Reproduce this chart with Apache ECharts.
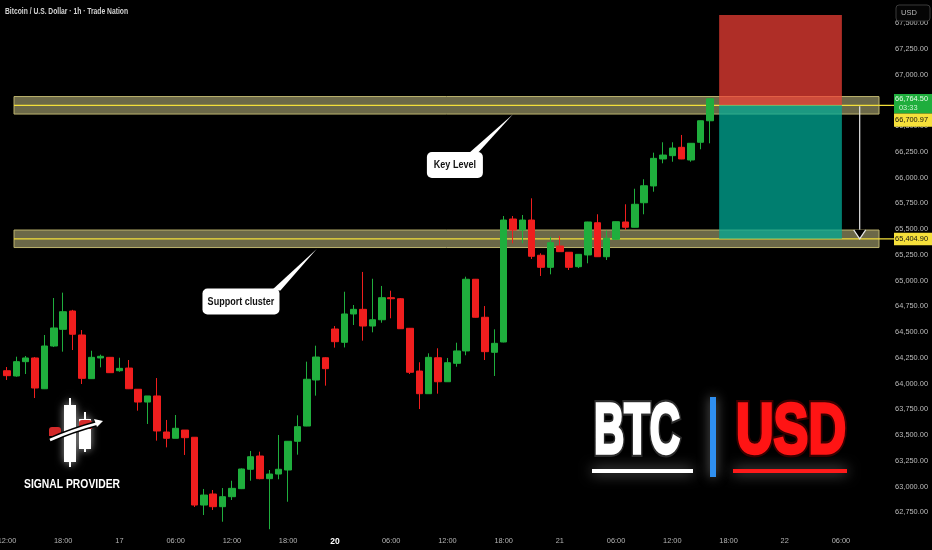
<!DOCTYPE html>
<html>
<head>
<meta charset="utf-8">
<script src="https://cdn.jsdelivr.net/npm/echarts@6/dist/echarts.min.js"></script>
<style>
  html, body { margin: 0; padding: 0; background: #000; }
  #chart { width: 932px; height: 550px; }
</style>
</head>
<body>
<div id="chart"></div>
<script>
// BTC/USD hourly candles (index = hour slot on the time scale)
const opens = [64124, 64073, 64212, 64248, 63949, 64364, 64526, 64704, 64471, 64047,
  64248, 64254, 64124, 64150, 63944, 63820, 63879, 63529, 63468, 63548,
  63478, 62820, 62927, 62804, 62901, 62979, 63167, 63296, 63076, 63121,
  63160, 63439, 63587, 64034, 64250, 64529, 64400, 64675, 64720, 64558,
  64619, 64833, 64823, 64536, 64121, 63901, 64250, 64017, 64196, 64316,
  65012, 64643, 64303, 64403, 65597, 65490, 65587, 65245, 65128, 65335,
  65274, 65134, 65248, 65561, 65231, 65400, 65568, 65517, 65755, 65918,
  66180, 66212, 66293, 66170, 66342, 66551];
const closes = [64076, 64212, 64248, 63956, 64364, 64539, 64697, 64478, 64050, 64254,
  64264, 64105, 64147, 63949, 63820, 63879, 63539, 63468, 63565, 63474,
  62820, 62917, 62804, 62901, 62982, 63170, 63289, 63076, 63121, 63167,
  63439, 63581, 64041, 64257, 64144, 64406, 64675, 64720, 64558, 64619,
  64833, 64823, 64532, 64109, 63901, 64254, 64017, 64202, 64316, 65012,
  64643, 64309, 64390, 65587, 65490, 65587, 65235, 65128, 65367, 65280,
  65128, 65254, 65568, 65231, 65410, 65571, 65517, 65740, 65920, 66186,
  66218, 66286, 66180, 66332, 66551, 66764.5];
const lows = [64034, 64066, 64092, 63859, 63946, 64354, 64309, 64325, 63995, 64044,
  64157, 64102, 64114, 63946, 63736, 63607, 63445, 63380, 63468, 63306,
  62801, 62723, 62772, 62658, 62869, 62975, 63056, 63070, 62585, 63070,
  62852, 63309, 63585, 63882, 63979, 64348, 64350, 64568, 64416, 64497,
  64590, 64633, 64529, 64092, 63752, 63900, 63901, 64015, 64163, 64274,
  64640, 64228, 64073, 64400, 65361, 65361, 65209, 65044, 65060, 65278,
  65102, 65121, 65167, 65229, 65199, 65398, 65490, 65515, 65643, 65862,
  66138, 66153, 66178, 66153, 66274, 66332];
const highs = [64160, 64260, 64267, 64257, 64471, 64830, 64882, 64715, 64519, 64318,
  64280, 64257, 64250, 64228, 63946, 63879, 64053, 63646, 63694, 63548,
  63480, 62976, 62966, 62985, 63056, 63175, 63345, 63338, 63160, 63500,
  63442, 63691, 64212, 64367, 64255, 64558, 64891, 64762, 65083, 65017,
  64947, 64901, 64830, 64539, 64206, 64293, 64342, 64248, 64396, 65037,
  65015, 64752, 64526, 65626, 65626, 65636, 65798, 65264, 65425, 65432,
  65276, 65257, 65570, 65643, 65484, 65573, 65740, 65891, 65983, 66241,
  66342, 66342, 66413, 66335, 66553, 66764.5];

// time scale labels (hour slot -> text)
const timeTickSlots = [0, 6, 12, 18, 24, 30, 35, 41, 47, 53, 59, 65, 71, 77, 83, 89];
const timeTickLabels = ['12:00', '18:00', '17', '06:00', '12:00', '18:00', '20', '06:00',
  '12:00', '18:00', '21', '06:00', '12:00', '18:00', '22', '06:00'];
const boldTimeLabels = ['20'];

// price scale labels
const priceTicks = [62750, 63000, 63250, 63500, 63750, 64000, 64250, 64500, 64750,
  65000, 65250, 65500, 65750, 66000, 66250, 66500, 66750, 67000, 67250, 67500];

// drawn levels and trade setup
const keyLevel = 66700.97;
const supportLevel = 65404.90;
const zoneHalfWidth = 85;
const lastPrice = 66764.50;
const barCountdown = '03:33';
const stopLevel = 67578;
const setupStartSlot = 76;
const setupEndSlot = 89.1;
const moveArrowSlot = 91;

// ---------------------------------------------------------------------------
const X_MIN = -0.747, X_MAX = 93.06;
const Y_MIN = 62577.6, Y_MAX = 67723.4;
const ZONE_START = 0.75;
const SANS = "'Liberation Sans',Arial,sans-serif";
const AXIS_FONT_SIZE = 7.4;

const fmtPrice = v => Number(v).toLocaleString('en-US', { minimumFractionDigits: 2, maximumFractionDigits: 2 });

const measureCtx = document.createElement('canvas').getContext('2d');
function widthOf(text, font) { measureCtx.font = font; return measureCtx.measureText(text).width; }
function fitScale(text, font, target) { return target / widthOf(text, font); }

const candleData = opens.map((o, i) => [i, o, closes[i], lows[i], highs[i]]);

const chart = echarts.init(document.getElementById('chart'), null, { renderer: 'canvas' });

const option = {
  backgroundColor: '#000000',
  animation: false,
  grid: { left: 0, right: 53, top: 0, bottom: 20, outerBoundsMode: 'none', containLabel: false },
  xAxis: {
    type: 'value', min: X_MIN, max: X_MAX,
    axisLine: { show: false }, axisTick: { show: false }, splitLine: { show: false },
    axisLabel: {
      customValues: timeTickSlots,
      margin: 7,
      color: '#b4b4b4', fontSize: AXIS_FONT_SIZE, fontFamily: SANS,
      formatter: v => {
        const k = timeTickSlots.indexOf(Math.round(v));
        if (k < 0) return '';
        const t = timeTickLabels[k];
        return boldTimeLabels.includes(t) ? '{b|' + t + '}' : t;
      },
      rich: { b: { fontWeight: 'bold', color: '#ffffff', fontSize: 8.5, fontFamily: SANS } }
    }
  },
  yAxis: {
    type: 'value', position: 'right', min: Y_MIN, max: Y_MAX,
    axisLine: { show: false }, axisTick: { show: false }, splitLine: { show: false },
    axisLabel: {
      customValues: priceTicks,
      align: 'right', margin: 49,
      color: '#bcbcbc', fontSize: AXIS_FONT_SIZE, fontFamily: SANS,
      formatter: v => fmtPrice(v)
    }
  },
  series: [
    {
      // horizontal zones around the key and support levels
      type: 'custom', name: 'zones', z: 1, silent: true,
      data: [[ZONE_START, keyLevel], [ZONE_START, supportLevel]],
      encode: { x: 0, y: 1 },
      renderItem: (params, api) => {
        const c = api.value(1);
        const tl = api.coord([ZONE_START, c + zoneHalfWidth]);
        const br = api.coord([X_MAX, c - zoneHalfWidth]);
        const mid = api.coord([ZONE_START, c]);
        return {
          type: 'group',
          children: [
            { type: 'rect', shape: { x: tl[0], y: tl[1], width: br[0] - tl[0], height: br[1] - tl[1] },
              style: { fill: 'rgba(214,208,144,0.5)', stroke: '#bdb46e', lineWidth: 1 } },
            { type: 'line', shape: { x1: mid[0], y1: mid[1], x2: br[0] + 15, y2: mid[1] },
              style: { stroke: '#f3df3a', lineWidth: 1.2 } }
          ]
        };
      }
    },
    {
      // short setup: stop (red) and target (teal) boxes
      type: 'custom', name: 'setup', z: 2, silent: true,
      data: [[setupStartSlot, setupEndSlot, keyLevel, stopLevel, supportLevel]],
      encode: { x: [0, 1], y: [2, 3, 4] },
      renderItem: (params, api) => {
        const a = api.coord([api.value(0), api.value(3)]);
        const b = api.coord([api.value(1), api.value(2)]);
        const c = api.coord([api.value(1), api.value(4)]);
        return {
          type: 'group',
          children: [
            { type: 'rect', shape: { x: a[0], y: a[1], width: b[0] - a[0], height: b[1] - a[1] },
              style: { fill: 'rgba(242,64,54,0.72)' } },
            { type: 'rect', shape: { x: a[0], y: b[1], width: b[0] - a[0], height: c[1] - b[1] },
              style: { fill: 'rgba(0,170,150,0.74)' } }
          ]
        };
      }
    },
    {
      // projected move arrow
      type: 'custom', name: 'move', z: 3, silent: true,
      data: [[moveArrowSlot, keyLevel, supportLevel]],
      encode: { x: 0, y: [1, 2] },
      renderItem: (params, api) => {
        const top = api.coord([api.value(0), api.value(1)]);
        const bot = api.coord([api.value(0), api.value(2)]);
        const s = { stroke: '#e6e6e6', lineWidth: 1.2 };
        return {
          type: 'group',
          children: [
            { type: 'line', shape: { x1: top[0], y1: top[1] + 1, x2: bot[0], y2: bot[1] }, style: s },
            { type: 'polyline', shape: { points: [[bot[0] - 6, bot[1] - 9], [bot[0], bot[1]], [bot[0] + 6, bot[1] - 9]] }, style: s }
          ]
        };
      }
    },
    {
      type: 'candlestick', name: 'BTCUSD', z: 5,
      data: candleData,
      encode: { x: 0, y: [1, 2, 3, 4] },
      barWidth: 7,
      itemStyle: {
        color: '#1fae3d', color0: '#f01e1e',
        borderColor: '#1fae3d', borderColor0: '#f01e1e', borderWidth: 1
      }
    }
  ]
};
chart.setOption(option);

const px = (slot, price) => chart.convertToPixel({ gridIndex: 0 }, [slot, price]);

function callout(text, boxSlot, boxPrice, tipSlot, tipPrice, w, h, tailOffset) {
  const [cx, cy] = px(boxSlot, boxPrice);
  const [tx, ty] = px(tipSlot, tipPrice);
  const top = cy - h / 2;
  const bx = cx + w / 2 - tailOffset;
  const font = 'bold 10.5px ' + SANS;
  return {
    type: 'group', z: 100,
    children: [
      { type: 'polygon', shape: { points: [[bx - 5, top + 2], [bx + 4, top + 2], [tx, ty]] }, style: { fill: '#ffffff' } },
      { type: 'rect', shape: { x: cx - w / 2, y: top, width: w, height: h, r: 5 }, style: { fill: '#ffffff' } },
      { type: 'text', x: cx, y: cy + 0.5, scaleX: 0.86,
        style: { text: text, font: font, fill: '#111111', align: 'center', verticalAlign: 'middle' } }
    ]
  };
}

const yLast = px(0, lastPrice)[1];
const ySup = px(0, supportLevel)[1];
const LABEL_X = 894, LABEL_W = 38, LABEL_TEXT_X = 928;
const labelFont = AXIS_FONT_SIZE + 'px ' + SANS;

const titleText = 'Bitcoin / U.S. Dollar · 1h · Trade Nation';
const titleFont = 'bold 8.5px ' + SANS;

const brandFont = 'bold 70px ' + SANS;
const glowWhite = { shadowBlur: 14, shadowColor: 'rgba(220,220,220,0.65)' };
const logoGlow = { shadowBlur: 8, shadowColor: 'rgba(255,255,255,0.55)' };
const logoFont = 'bold 13px ' + SANS;
const btcScale = fitScale('BTC', brandFont, 86);
const usdScale = fitScale('USD', brandFont, 110);

function brandWord(text, x, scale, fill, outline) {
  return [
    // dark outline with soft glow behind
    { type: 'text', z: 101, x: x, y: 433.5, scaleX: scale,
      style: Object.assign({ text: text, font: brandFont, fill: fill, stroke: outline, lineWidth: 8,
        align: 'left', verticalAlign: 'middle' }, glowWhite) },
    // thickened face
    { type: 'text', z: 102, x: x, y: 433.5, scaleX: scale,
      style: { text: text, font: brandFont, fill: fill, stroke: fill, lineWidth: 3.5,
        align: 'left', verticalAlign: 'middle' } }
  ];
}

const graphics = [
  // chart title
  { type: 'text', z: 100, x: 5, y: 12, scaleX: fitScale(titleText, titleFont, 123),
    style: { text: titleText, font: titleFont, fill: '#d4d4d4', align: 'left', verticalAlign: 'middle' } },

  // currency button
  { type: 'rect', z: 100, shape: { x: 896, y: 5, width: 34, height: 16, r: 3 },
    style: { fill: '#050505', stroke: '#3a3a3a', lineWidth: 1 } },
  { type: 'text', z: 101, x: 901, y: 13,
    style: { text: 'USD', font: '7.5px ' + SANS, fill: '#b8b8b8', align: 'left', verticalAlign: 'middle' } },

  // last price with bar countdown
  { type: 'rect', z: 100, shape: { x: LABEL_X, y: yLast - 4.8, width: LABEL_W, height: 19.5 }, style: { fill: '#1fae3d' } },
  { type: 'text', z: 101, x: LABEL_TEXT_X, y: yLast + 0.3,
    style: { text: fmtPrice(lastPrice), font: labelFont, fill: '#eafbe9', align: 'right', verticalAlign: 'middle' } },
  { type: 'text', z: 101, x: 899, y: yLast + 9.5,
    style: { text: barCountdown, font: labelFont, fill: '#cdf3cf', align: 'left', verticalAlign: 'middle' } },

  // key level label (stacked under the last price)
  { type: 'rect', z: 100, shape: { x: LABEL_X, y: yLast + 14.7, width: LABEL_W, height: 13.4 }, style: { fill: '#f6e03b' } },
  { type: 'text', z: 101, x: LABEL_TEXT_X, y: yLast + 21.5,
    style: { text: fmtPrice(keyLevel), font: labelFont, fill: '#111111', align: 'right', verticalAlign: 'middle' } },

  // support level label
  { type: 'rect', z: 100, shape: { x: LABEL_X, y: ySup - 6, width: LABEL_W, height: 12.5 }, style: { fill: '#f6e03b' } },
  { type: 'text', z: 101, x: LABEL_TEXT_X, y: ySup + 0.3,
    style: { text: fmtPrice(supportLevel), font: labelFont, fill: '#111111', align: 'right', verticalAlign: 'middle' } },

  // callouts
  callout('Key Level', 47.8, 66121, 54.0, 66614, 56, 26, 10),
  callout('Support cluster', 24.97, 64796, 33.05, 65305, 77, 26, 3),

  // BTC | USD badge
  { type: 'rect', z: 100, shape: { x: 592, y: 469, width: 101, height: 4 }, style: Object.assign({ fill: '#ffffff' }, glowWhite) },
  { type: 'rect', z: 100, shape: { x: 733, y: 469, width: 114, height: 4 }, style: Object.assign({ fill: '#ff1a1a' }, glowWhite) },
  { type: 'rect', z: 100, shape: { x: 710, y: 397, width: 6, height: 80 },
    style: { fill: '#2f8ff0', shadowBlur: 12, shadowColor: 'rgba(200,200,200,0.55)' } },
  ...brandWord('BTC', 594, btcScale, '#ffffff', '#2c2c2c'),
  ...brandWord('USD', 736, usdScale, '#ff1414', '#3a0000'),

  // signal provider logo
  { type: 'line', z: 100, shape: { x1: 70, y1: 398, x2: 70, y2: 467 }, style: Object.assign({ stroke: '#ffffff', lineWidth: 2 }, logoGlow) },
  { type: 'rect', z: 100, shape: { x: 64, y: 405, width: 12, height: 57 }, style: Object.assign({ fill: '#ffffff' }, logoGlow) },
  { type: 'line', z: 100, shape: { x1: 85, y1: 412, x2: 85, y2: 452 }, style: Object.assign({ stroke: '#ffffff', lineWidth: 2 }, logoGlow) },
  { type: 'rect', z: 100, shape: { x: 79, y: 419, width: 12, height: 30 }, style: Object.assign({ fill: '#ffffff' }, logoGlow) },
  { type: 'rect', z: 101, shape: { x: 49, y: 427, width: 12, height: 9, r: [3, 3, 0, 0] }, style: { fill: '#d42a2a' } },
  { type: 'rect', z: 101, shape: { x: 79, y: 420, width: 13, height: 9, r: [3, 3, 0, 0] }, style: { fill: '#d42a2a' } },
  { type: 'bezierCurve', z: 102, shape: { x1: 50, y1: 440, x2: 99, y2: 423, cpx1: 68, cpy1: 432, cpx2: 84, cpy2: 427 },
    style: { stroke: '#000000', lineWidth: 5.5, fill: null } },
  { type: 'bezierCurve', z: 103, shape: { x1: 50, y1: 440, x2: 99, y2: 423, cpx1: 68, cpy1: 432, cpx2: 84, cpy2: 427 },
    style: { stroke: '#ffffff', lineWidth: 2.6, fill: null } },
  { type: 'polygon', z: 103, shape: { points: [[103, 421], [94, 419], [97, 427]] }, style: { fill: '#ffffff' } },
  { type: 'text', z: 101, x: 72, y: 484.5, scaleX: fitScale('SIGNAL PROVIDER', logoFont, 96),
    style: Object.assign({ text: 'SIGNAL PROVIDER', font: logoFont, fill: '#ffffff', align: 'center', verticalAlign: 'middle' }, logoGlow) }
];

chart.setOption({ graphic: { elements: graphics } });
</script>
</body>
</html>
